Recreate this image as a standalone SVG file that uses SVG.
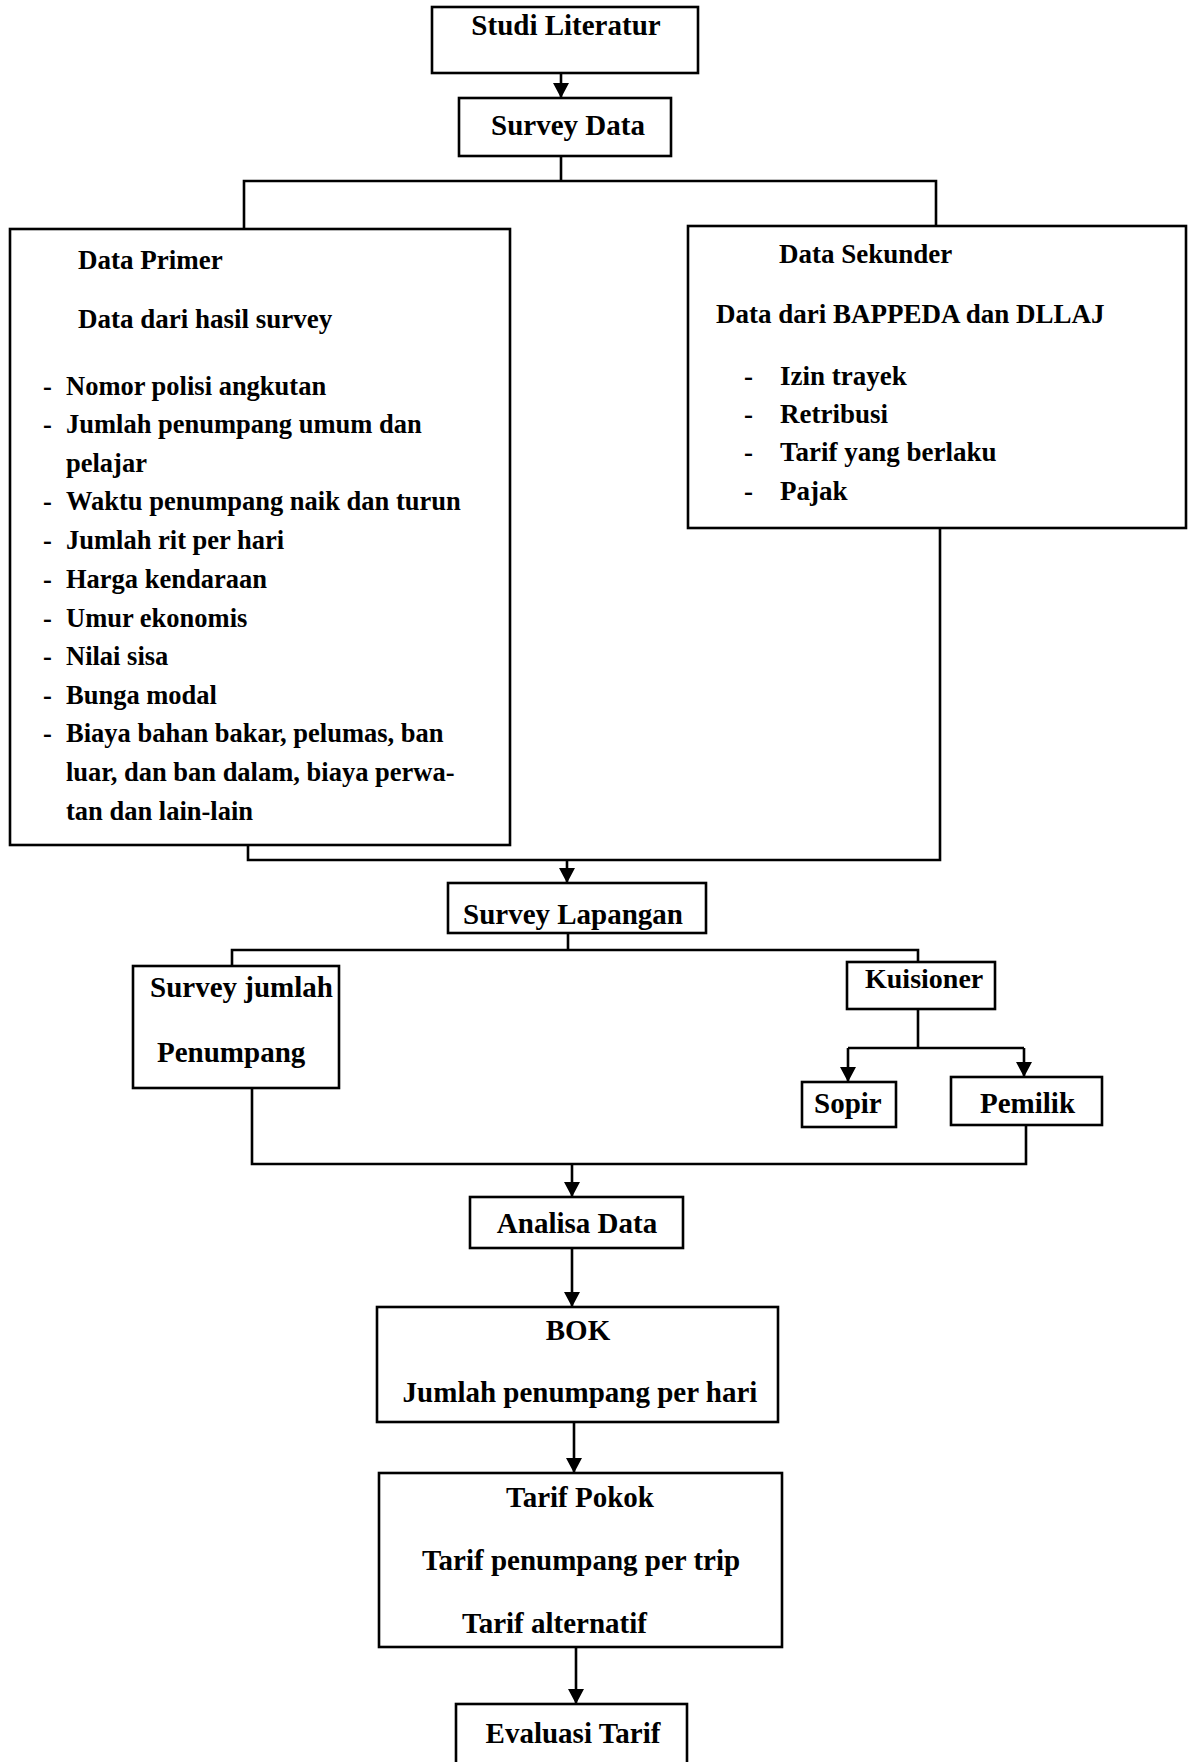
<svg xmlns="http://www.w3.org/2000/svg" width="1188" height="1762" viewBox="0 0 1188 1762">
<style>
.box{fill:#fff;stroke:#000;stroke-width:2.6}
.ln{fill:none;stroke:#000;stroke-width:2.6}
text{font-family:"Liberation Serif","Times New Roman",serif;font-weight:bold;fill:#000}
.t{font-size:29px}
.c{text-anchor:middle}
.p{font-size:26.5px}
.s{font-size:27px}
</style>
<defs>
<marker id="ah" markerUnits="userSpaceOnUse" markerWidth="16" markerHeight="16" refX="15" refY="8" orient="auto">
<path d="M0,0 L15,8 L0,16 z" fill="#000"/>
</marker>
</defs>
<rect width="1188" height="1762" fill="#fff"/>
<g id="connectors">
<line class="ln" x1="561" y1="60" x2="561" y2="98" marker-end="url(#ah)"/>
<polyline class="ln" points="561,156 561,181"/>
<polyline class="ln" points="244,229 244,181 936,181 936,226"/>
<polyline class="ln" points="248,845 248,860 940,860 940,528"/>
<line class="ln" x1="567" y1="860" x2="567" y2="883" marker-end="url(#ah)"/>
<polyline class="ln" points="568,933 568,950"/>
<polyline class="ln" points="232,966 232,950 918,950 918,962"/>
<polyline class="ln" points="918,1009 918,1048"/>
<polyline class="ln" points="848,1048 1024,1048"/>
<line class="ln" x1="848" y1="1048" x2="848" y2="1082" marker-end="url(#ah)"/>
<line class="ln" x1="1024" y1="1048" x2="1024" y2="1077" marker-end="url(#ah)"/>
<polyline class="ln" points="252,1088 252,1164 1026,1164 1026,1125"/>
<line class="ln" x1="572" y1="1164" x2="572" y2="1197" marker-end="url(#ah)"/>
<line class="ln" x1="572" y1="1248" x2="572" y2="1307" marker-end="url(#ah)"/>
<line class="ln" x1="574" y1="1422" x2="574" y2="1473" marker-end="url(#ah)"/>
<line class="ln" x1="576" y1="1647" x2="576" y2="1704" marker-end="url(#ah)"/>
</g>
<g id="studi-literatur">
<rect class="box" x="432" y="7" width="266" height="66"/>
<text class="t c" x="566" y="35">Studi Literatur</text>
</g>
<g id="survey-data">
<rect class="box" x="459" y="98" width="212" height="58"/>
<text class="t c" x="568" y="135">Survey Data</text>
</g>
<g id="data-primer">
<rect class="box" x="10" y="229" width="500" height="616"/>
<text class="s" x="78" y="269">Data Primer</text>
<text class="s" x="78" y="328">Data dari hasil survey</text>
<text class="p" x="43" y="395">-</text><text class="p" x="66" y="395">Nomor polisi angkutan</text>
<text class="p" x="43" y="433">-</text><text class="p" x="66" y="433">Jumlah penumpang umum dan</text>
<text class="p" x="66" y="472">pelajar</text>
<text class="p" x="43" y="510">-</text><text class="p" x="66" y="510">Waktu penumpang naik dan turun</text>
<text class="p" x="43" y="549">-</text><text class="p" x="66" y="549">Jumlah rit per hari</text>
<text class="p" x="43" y="588">-</text><text class="p" x="66" y="588">Harga kendaraan</text>
<text class="p" x="43" y="627">-</text><text class="p" x="66" y="627">Umur ekonomis</text>
<text class="p" x="43" y="665">-</text><text class="p" x="66" y="665">Nilai sisa</text>
<text class="p" x="43" y="704">-</text><text class="p" x="66" y="704">Bunga modal</text>
<text class="p" x="43" y="742">-</text><text class="p" x="66" y="742">Biaya bahan bakar, pelumas, ban</text>
<text class="p" x="66" y="781">luar, dan ban dalam, biaya perwa-</text>
<text class="p" x="66" y="820">tan dan lain-lain</text>
</g>
<g id="data-sekunder">
<rect class="box" x="688" y="226" width="498" height="302"/>
<text class="s" x="779" y="263">Data Sekunder</text>
<text class="s" x="716" y="323">Data dari BAPPEDA dan DLLAJ</text>
<text class="s" x="744" y="385">-</text><text class="s" x="780" y="385">Izin trayek</text>
<text class="s" x="744" y="423">-</text><text class="s" x="780" y="423">Retribusi</text>
<text class="s" x="744" y="461">-</text><text class="s" x="780" y="461">Tarif yang berlaku</text>
<text class="s" x="744" y="500">-</text><text class="s" x="780" y="500">Pajak</text>
</g>
<g id="survey-lapangan">
<rect class="box" x="448" y="883" width="258" height="50"/>
<text class="t c" x="573" y="924">Survey Lapangan</text>
</g>
<g id="survey-jumlah-penumpang">
<rect class="box" x="133" y="966" width="206" height="122"/>
<text class="t" x="150" y="997">Survey jumlah</text>
<text class="t" x="157" y="1062">Penumpang</text>
</g>
<g id="kuisioner">
<rect class="box" x="847" y="962" width="148" height="47"/>
<text class="t" x="865" y="988" style="font-size:28px">Kuisioner</text>
</g>
<g id="sopir">
<rect class="box" x="802" y="1082" width="94" height="45"/>
<text class="t" x="814" y="1113">Sopir</text>
</g>
<g id="pemilik">
<rect class="box" x="951" y="1077" width="151" height="48"/>
<text class="t" x="980" y="1113">Pemilik</text>
</g>
<g id="analisa-data">
<rect class="box" x="470" y="1197" width="213" height="51"/>
<text class="t c" x="577" y="1233">Analisa Data</text>
</g>
<g id="bok">
<rect class="box" x="377" y="1307" width="401" height="115"/>
<text class="t c" x="578" y="1340">BOK</text>
<text class="t c" x="580" y="1402">Jumlah penumpang per hari</text>
</g>
<g id="tarif-pokok">
<rect class="box" x="379" y="1473" width="403" height="174"/>
<text class="t c" x="580" y="1507">Tarif Pokok</text>
<text class="t c" x="581" y="1570">Tarif penumpang per trip</text>
<text class="t" x="462" y="1633">Tarif alternatif</text>
</g>
<g id="evaluasi-tarif">
<rect class="box" x="456" y="1704" width="231" height="80"/>
<text class="t c" x="573" y="1743">Evaluasi Tarif</text>
</g>
</svg>
